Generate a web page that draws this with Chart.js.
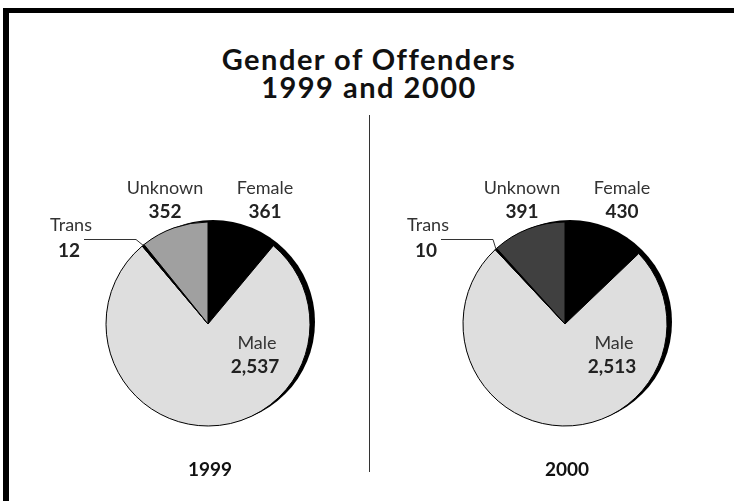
<!DOCTYPE html>
<html>
<head>
<meta charset="utf-8">
<script src="https://cdn.jsdelivr.net/npm/chart.js@4"></script>
<style>
  html, body { margin: 0; padding: 0; background: #fff; }
  body { width: 734px; height: 501px; position: relative; overflow: hidden; font-family: Lato, "Open Sans", sans-serif; }
  .frame { position: absolute; left: 3px; top: 8px; right: 0; bottom: 0; border-top: 5px solid #000; border-left: 6px solid #000; }
  .title { position: absolute; left: 2px; width: 734px; top: 45px; text-align: center; font-weight: 700; font-size: 29px; line-height: 28px; letter-spacing: 1.5px; color: #111; }
  .divider { position: absolute; left: 369px; top: 115px; width: 1px; height: 357px; background: #333; }
  .pie { position: absolute; top: 169px; width: 360px; height: 310px; }
  #pie1999 { left: 28px; }
  #pie2000 { left: 385px; }
</style>
</head>
<body>
<div class="frame"></div>
<div class="title">Gender of Offenders<br>1999 and 2000</div>
<div class="divider"></div>
<div class="pie" id="pie1999"><canvas id="c1999"></canvas></div>
<div class="pie" id="pie2000"><canvas id="c2000"></canvas></div>
<script>
// data
const categories = ['Female', 'Male', 'Trans', 'Unknown'];
const years = ['1999', '2000'];
const values1999 = [361, 2537, 12, 352];
const values2000 = [430, 2513, 10, 391];
const colors1999 = ['#000000', '#dedede', '#000000', '#a0a0a0'];
const colors2000 = ['#000000', '#dedede', '#000000', '#404040'];

// label placement relative to the pie centre (px)
const LABEL_POS = {
  Female:  { name: [57, -136], value: [57, -112] },
  Unknown: { name: [-43, -136], value: [-43, -112] },
  Male:    { name: [49, 19], value: [47, 43] },
  Trans:   { name: [-137, -99], value: [-139, -73] }
};
const LEADER = { from: [-124, -85], knee: [-72, -85] };
const SHADOW = [5, -2];

const shadowPlugin = {
  id: 'pieShadow',
  beforeDatasetsDraw(chart) {
    const arc = chart.getDatasetMeta(0).data[0];
    if (!arc) return;
    const ctx = chart.ctx;
    ctx.save();
    ctx.fillStyle = '#000';
    ctx.beginPath();
    ctx.arc(arc.x + SHADOW[0], arc.y + SHADOW[1], arc.outerRadius, 0, Math.PI * 2);
    ctx.fill();
    ctx.restore();
  }
};

const labelPlugin = {
  id: 'pieLabels',
  afterDatasetsDraw(chart, args, opts) {
    const meta = chart.getDatasetMeta(0);
    const ctx = chart.ctx;
    const cx = meta.data[0].x, cy = meta.data[0].y;
    const vals = chart.data.datasets[0].data;
    ctx.save();
    ctx.textAlign = 'center';
    ctx.textBaseline = 'middle';

    // leader line to the Trans sliver
    const ti = categories.indexOf('Trans');
    const ta = meta.data[ti];
    const mid = (ta.startAngle + ta.endAngle) / 2;
    ctx.strokeStyle = '#333';
    ctx.lineWidth = 1;
    ctx.beginPath();
    ctx.moveTo(cx + LEADER.from[0], cy + LEADER.from[1] + 0.5);
    ctx.lineTo(cx + LEADER.knee[0], cy + LEADER.knee[1] + 0.5);
    ctx.lineTo(cx + ta.outerRadius * Math.cos(mid), cy + ta.outerRadius * Math.sin(mid));
    ctx.stroke();

    categories.forEach((cat, i) => {
      const p = LABEL_POS[cat];
      ctx.fillStyle = '#333';
      ctx.font = '18px Lato';
      ctx.fillText(cat, cx + p.name[0], cy + p.name[1]);
      ctx.fillStyle = '#222';
      ctx.font = 'bold 19px Lato';
      ctx.fillText(vals[i].toLocaleString('en-US'), cx + p.value[0], cy + p.value[1]);
    });

    ctx.fillStyle = '#111';
    ctx.font = 'bold 19px Lato';
    ctx.fillText(opts.year, cx + 2, cy + 146);
    ctx.restore();
  }
};

function drawPie(id, values, colors, year) {
  return new Chart(document.getElementById(id), {
    type: 'pie',
    data: {
      labels: categories,
      datasets: [{
        data: values,
        backgroundColor: colors,
        borderColor: '#000',
        borderWidth: 1
      }]
    },
    options: {
      responsive: true,
      maintainAspectRatio: false,
      animation: false,
      radius: 102,
      layout: { padding: 0 },
      plugins: {
        legend: { display: false },
        tooltip: { enabled: false },
        pieLabels: { year }
      }
    },
    plugins: [shadowPlugin, labelPlugin]
  });
}

drawPie('c1999', values1999, colors1999, years[0]);
drawPie('c2000', values2000, colors2000, years[1]);
</script>
</body>
</html>
